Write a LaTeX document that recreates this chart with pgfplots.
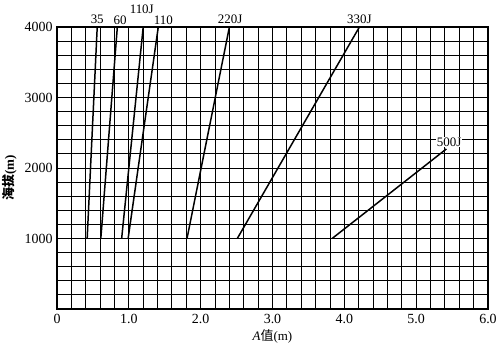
\documentclass[border=0pt]{standalone}
\usepackage{fontspec}
\setmainfont{Liberation Serif}
\newfontfamily\cjk{Noto Sans CJK SC}
\usepackage{pgfplots}
\pgfplotsset{compat=1.18}
\begin{document}
\begin{tikzpicture}
\path[use as bounding box] (-57bp,-37bp) rectangle (443bp,309bp);
\begin{axis}[at={(0,0)}, anchor=south west, scale only axis,
  width=431bp, height=282bp,
  xmin=0, xmax=6, ymin=0, ymax=4000,
  xtick={0,1,2,3,4,5,6}, xticklabels={0,1.0,2.0,3.0,4.0,5.0,6.0},
  ytick={0,1000,2000,3000,4000}, yticklabels={,1000,2000,3000,4000},
  minor x tick num=4, minor y tick num=4,
  grid=both,
  major grid style={black, line width=0.9pt},
  minor grid style={black, line width=0.9pt},
  major tick length=0pt, minor tick length=0pt,
  axis line style={line width=1.1pt},
  tick label style={font=\fontsize{14}{14}\selectfont},
  xticklabel style={yshift=-2pt},
  yticklabel style={xshift=-1pt},
  xlabel={\textit{A}{\cjk 值}(m)},
  ylabel={{\cjk 海拔}(m)},
  xlabel style={at={(axis description cs:0.5,-0.099)}, anchor=center, font=\fontsize{13}{13}\selectfont},
  ylabel style={at={(axis description cs:-0.11,0.465)}, anchor=center, rotate=0, font=\bfseries\fontsize{13}{13}\selectfont},
  clip=false,
]
\addplot[black, line width=1.5pt] coordinates {(0.42,1000) (0.56,4000)};
\addplot[black, line width=1.5pt] coordinates {(0.61,1000) (0.84,4000)};
\addplot[black, line width=1.5pt] coordinates {(0.90,1000) (1.20,4000)};
\addplot[black, line width=1.5pt] coordinates {(0.99,1000) (1.41,4000)};
\addplot[black, line width=1.5pt] coordinates {(1.81,1000) (2.40,4000)};
\addplot[black, line width=1.5pt] coordinates {(2.51,1000) (4.21,4000)};
\addplot[black, line width=1.5pt] coordinates {(3.83,1000) (5.42,2270)};
\begin{scope}[every node/.style={font=\fontsize{13}{13}\selectfont, inner sep=1pt}]
\node at (axis cs:0.56,4110) {35};
\node at (axis cs:0.88,4090) {60};
\node at (axis cs:1.18,4250) {110J};
\node at (axis cs:1.48,4090) {110};
\node at (axis cs:2.41,4110) {220J};
\node at (axis cs:4.21,4110) {330J};
\node[fill=white] at (axis cs:5.46,2370) {500J};
\end{scope}
\end{axis}
\end{tikzpicture}
\end{document}
